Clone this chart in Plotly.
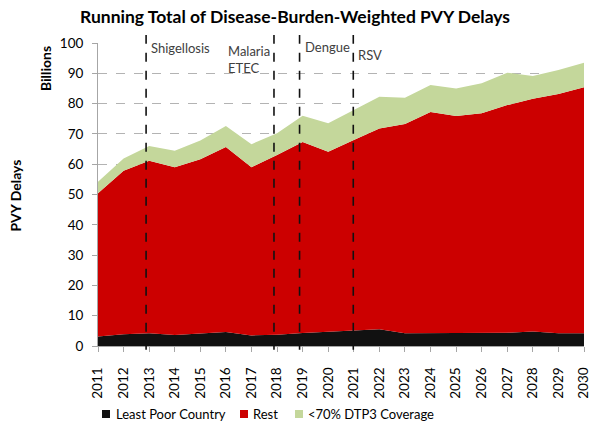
import plotly.graph_objects as go

# =========================================================
# DATOS
# =========================================================
anios = list(range(2011, 2031))

least_poor = [3.1, 3.9, 4.2, 3.6, 4.1, 4.6, 3.5, 3.7, 4.3, 4.7,
              5.0, 5.5, 4.2, 4.2, 4.4, 4.3, 4.4, 4.8, 4.2, 4.2]
rest = [47.3, 53.9, 56.9, 55.4, 57.5, 61.1, 55.5, 59.3, 63.0, 59.4,
        63.0, 66.3, 69.1, 73.0, 71.5, 72.5, 75.1, 76.8, 79.0, 81.2]
dtp3_bajo = [3.8, 4.1, 4.9, 5.4, 6.2, 6.9, 7.6, 7.2, 8.7, 9.4,
             9.9, 10.5, 8.6, 8.9, 9.1, 9.9, 10.7, 7.5, 7.9, 8.1]

nombres = ["Least Poor Country", "Rest", "<70% DTP3 Coverage"]
colores = ["#111111", "#cc0000", "#c4d79b"]

# vacunas: posicion de la linea y etiqueta
vacunas_x = [2012.88, 2017.88, 2018.88, 2020.98]
vacunas_txt = ["Shigellosis", "Malaria<br>ETEC", "Dengue", "RSV"]
vacunas_y = [98.3, 94.5, 98.7, 96.0]
vacunas_lado = ["left", "right", "left", "left"]

FUENTE = "Lato, Liberation Sans, sans-serif"

# =========================================================
# FIGURA
# =========================================================
fig = go.Figure()

for nombre, valores, color in zip(nombres, [least_poor, rest, dtp3_bajo], colores):
    fig.add_trace(go.Scatter(
        x=anios,
        y=valores,
        name=nombre,
        mode="lines",
        stackgroup="uno",
        line=dict(width=0, color=color),
        fillcolor=color,
        showlegend=False,
    ))

# lineas verticales discontinuas
for xv in vacunas_x:
    fig.add_shape(
        type="line", xref="x", yref="paper",
        x0=xv, x1=xv, y0=-0.012, y1=1.026,
        line=dict(color="#111111", width=1.6, dash="dash"),
        layer="above",
    )

for xv, txt, yv, lado in zip(vacunas_x, vacunas_txt, vacunas_y, vacunas_lado):
    fig.add_annotation(
        x=xv, y=yv, xref="x", yref="y",
        text=txt, showarrow=False,
        xanchor=lado, yanchor="middle", align="left",
        xshift=3 if lado == "left" else -2,
        font=dict(size=13, color="#404040", family=FUENTE),
    )

# titulos de eje verticales
fig.add_annotation(
    x=-0.109, y=0.914, xref="paper", yref="paper",
    text="<b>Billions</b>", textangle=-90, showarrow=False,
    xanchor="center", yanchor="middle",
    font=dict(size=14, color="#000000", family=FUENTE),
)
fig.add_annotation(
    x=-0.17, y=0.498, xref="paper", yref="paper",
    text="<b>PVY Delays</b>", textangle=-90, showarrow=False,
    xanchor="center", yanchor="middle",
    font=dict(size=14, color="#000000", family=FUENTE),
)

# leyenda compacta (cuadrado + texto) como en el original
ley_cuadro_x = [0.0082, 0.2922, 0.4053]
ley_texto_x = [0.0329, 0.3148, 0.4280]
for nombre, color, xc, xt in zip(nombres, colores, ley_cuadro_x, ley_texto_x):
    fig.add_shape(
        type="rect", xref="paper", yref="paper",
        x0=xc, x1=xc + 0.0165, y0=-0.2376, y1=-0.2112,
        fillcolor=color, line=dict(width=0),
    )
    fig.add_annotation(
        x=xt, y=-0.2244, xref="paper", yref="paper",
        text=nombre.replace("<", "&lt;"), showarrow=False,
        xanchor="left", yanchor="middle",
        font=dict(size=13, color="#000000", family=FUENTE),
    )

fig.update_layout(
    width=590,
    height=422,
    title=dict(
        text="<b>Running Total of Disease-Burden-Weighted PVY Delays</b>",
        x=0.5, xanchor="center", y=0.96, yanchor="middle",
        font=dict(size=17.5, color="#000000", family=FUENTE),
    ),
    paper_bgcolor="white",
    plot_bgcolor="white",
    font=dict(family=FUENTE, size=13, color="#000000"),
    margin=dict(l=98, r=6, t=43, b=76),
    showlegend=False,
    xaxis=dict(
        range=[2011, 2030],
        tickmode="array",
        tickvals=anios,
        ticktext=[str(a) for a in anios],
        tickangle=-90,
        ticks="outside",
        ticklen=5,
        tickcolor="#a6a6a6",
        ticklabelstandoff=10,
        ticklabeloverflow="allow",
        showgrid=False,
        zeroline=False,
        showline=True,
        linecolor="#a6a6a6",
        automargin=False,
        tickfont=dict(size=13.5, family=FUENTE),
    ),
    yaxis=dict(
        range=[0, 100],
        dtick=10,
        ticks="outside",
        ticklen=5,
        tickcolor="#a6a6a6",
        ticklabelstandoff=6,
        showgrid=True,
        gridcolor="#b3b3b3",
        griddash="dash",
        zeroline=False,
        showline=True,
        linecolor="#a6a6a6",
        automargin=False,
        tickfont=dict(size=13.5, family=FUENTE),
    ),
)

# quitar el margen por defecto del body para que la figura quede en (0,0)
fig.write_html(
    "out.html",
    config={"displayModeBar": False},
    post_script="document.body.style.margin='0';",
)
